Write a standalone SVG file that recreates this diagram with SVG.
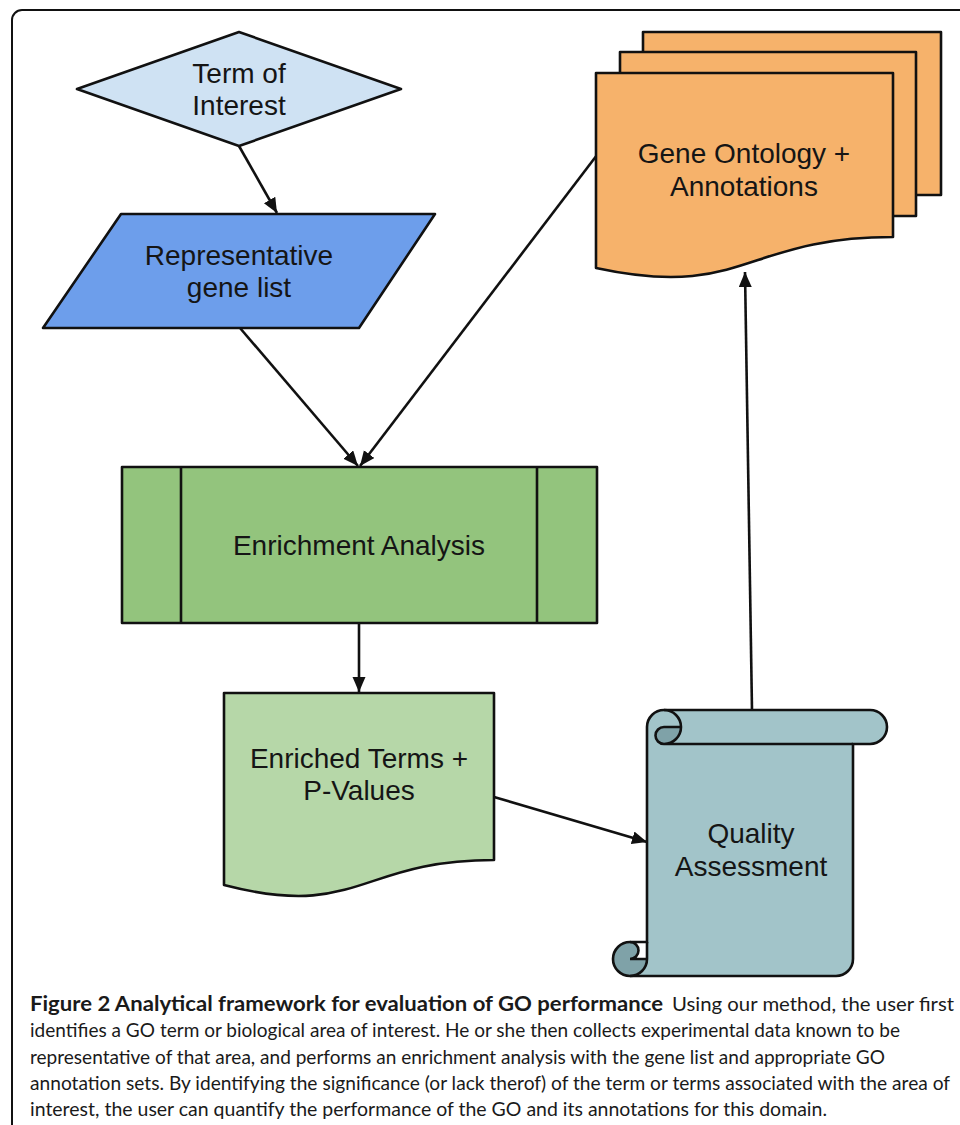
<svg xmlns="http://www.w3.org/2000/svg" width="960" height="1125" viewBox="0 0 960 1125">
<style>
.s{stroke:#111;stroke-width:2.6;stroke-linejoin:round}
.t{font-family:"Liberation Sans",Arial,sans-serif;font-size:28px;fill:#151515;text-anchor:middle}
.c{stroke:#111;stroke-width:2.6;fill:none}
.cap{font-family:Lato,"Open Sans",sans-serif;font-size:20px;fill:#1a1a1a}
</style>
<defs>
<marker id="ah" markerUnits="userSpaceOnUse" markerWidth="16" markerHeight="14" refX="15" refY="6.5" orient="auto">
<path d="M0,0 L15,6.5 L0,13 Z" fill="#111"/>
</marker>
</defs>
<rect x="0" y="0" width="960" height="1125" fill="#fff"/>
<rect x="12" y="10" width="1000" height="1200" rx="10" fill="none" stroke="#111" stroke-width="2"/>

<g id="connectors">
<line class="c" x1="239" y1="146" x2="277" y2="213" marker-end="url(#ah)"/>
<line class="c" x1="240" y1="328" x2="358" y2="466" marker-end="url(#ah)"/>
<line class="c" x1="597" y1="155" x2="360" y2="466" marker-end="url(#ah)"/>
<line class="c" x1="359" y1="623" x2="359" y2="692" marker-end="url(#ah)"/>
<line class="c" x1="494" y1="797" x2="647" y2="842" marker-end="url(#ah)"/>
<line class="c" x1="752" y1="710" x2="745" y2="272" marker-end="url(#ah)"/>
</g>

<g id="term-of-interest">
<polygon class="s" points="77,89 239,32 401,89 239,146" fill="#cfe2f3"/>
<text class="t" x="239" y="83">Term of</text>
<text class="t" x="239" y="115">Interest</text>
</g>

<g id="gene-list">
<polygon class="s" points="121,214 435,214 359,328 43,328" fill="#6d9eeb"/>
<text class="t" x="239" y="265">Representative</text>
<text class="t" x="239" y="297">gene list</text>
</g>

<g id="gene-ontology">
<rect class="s" x="643" y="32" width="298" height="163" fill="#f6b26b"/>
<rect class="s" x="620" y="52" width="296" height="164" fill="#f6b26b"/>
<path class="s" d="M596,73 H893 V237 C744,237 744,300 596,268 Z" fill="#f6b26b"/>
<text class="t" x="744" y="163">Gene Ontology +</text>
<text class="t" x="744" y="196">Annotations</text>
</g>

<g id="enrichment-analysis">
<rect class="s" x="122" y="467" width="475" height="156" fill="#93c47d"/>
<line class="c" x1="181" y1="467" x2="181" y2="623"/>
<line class="c" x1="537" y1="467" x2="537" y2="623"/>
<text class="t" x="359" y="555">Enrichment Analysis</text>
</g>

<g id="enriched-terms">
<path class="s" d="M224,693 H494 V860 C359,860 359,920 224,885 Z" fill="#b6d7a8"/>
<text class="t" x="359" y="768">Enriched Terms +</text>
<text class="t" x="359" y="800">P-Values</text>
</g>

<g id="quality-assessment">
<path d="M647,959 L647,727 A17,17 0 0 1 664,710 L870,710 A17,17 0 0 1 870,744 L853,744 L853,959 A17,17 0 0 1 836,976 L630,976 Z" fill="#a2c4c9"/>
<path d="M681,727 A17,17 0 0 1 664,744 A8.5,8.5 0 0 1 664,727 Z" fill="#7fa2a8"/>
<path d="M647,959 A17,17 0 1 1 630,942 A8.5,8.5 0 0 1 630,959 Z" fill="#7fa2a8"/>
<path class="c" d="M647,942 L647,727 A17,17 0 0 1 664,710 L870,710 A17,17 0 0 1 870,744 L853,744 L853,959 A17,17 0 0 1 836,976 L630,976 A17,17 0 0 1 630,942 Z"/>
<path class="c" d="M664,710 A17,17 0 0 1 664,744 A8.5,8.5 0 0 1 664,727 L681,727 M853,744 L664,744 M630,942 A8.5,8.5 0 0 1 630,959 L647,959 M630,976 A17,17 0 0 0 647,959 L647,942"/>
<text class="t" x="751" y="843">Quality</text>
<text class="t" x="751" y="876">Assessment</text>
</g>

<g id="caption">
<text class="cap" x="30" y="1011" font-weight="bold" textLength="633" lengthAdjust="spacingAndGlyphs">Figure 2 Analytical framework for evaluation of GO performance</text>
<text class="cap" x="672" y="1011" textLength="282" lengthAdjust="spacingAndGlyphs">Using our method, the user first</text>
<text class="cap" x="30" y="1037" textLength="870" lengthAdjust="spacingAndGlyphs">identifies a GO term or biological area of interest. He or she then collects experimental data known to be</text>
<text class="cap" x="30" y="1064" textLength="855" lengthAdjust="spacingAndGlyphs">representative of that area, and performs an enrichment analysis with the gene list and appropriate GO</text>
<text class="cap" x="30" y="1090" textLength="920" lengthAdjust="spacingAndGlyphs">annotation sets. By identifying the significance (or lack therof) of the term or terms associated with the area of</text>
<text class="cap" x="30" y="1116" textLength="797" lengthAdjust="spacingAndGlyphs">interest, the user can quantify the performance of the GO and its annotations for this domain.</text>
</g>
</svg>
